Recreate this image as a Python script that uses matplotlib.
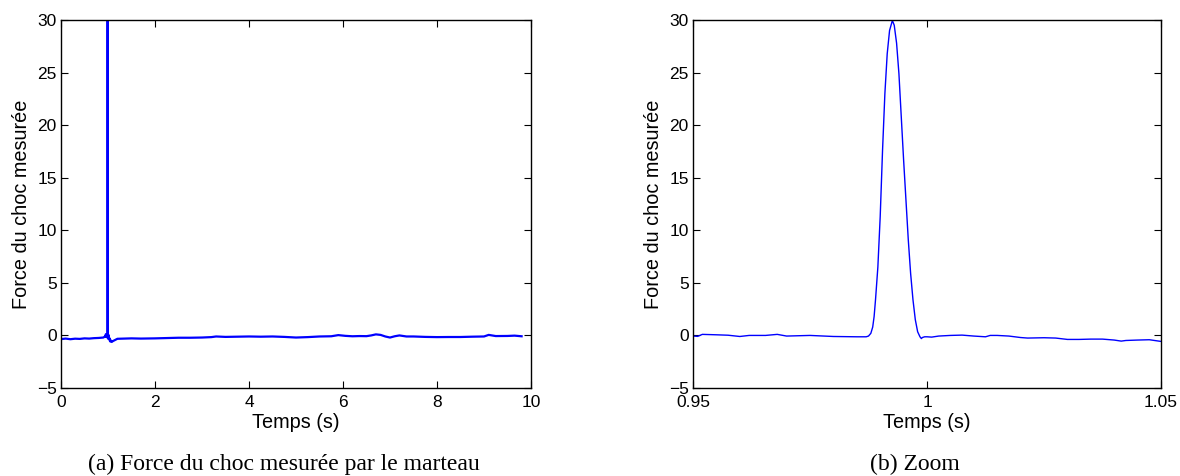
import matplotlib
matplotlib.use("Agg")
import matplotlib.pyplot as plt
import numpy as np

# --- Data ---
# Zoomed shock (s, force)
zoom_t = [0.950, 0.951, 0.952, 0.955, 0.9575, 0.960, 0.962, 0.9655, 0.968, 0.970,
          0.975, 0.980, 0.985, 0.987, 0.9875, 0.9880, 0.9884, 0.9887, 0.9890, 0.9895,
          0.9900, 0.9905, 0.9910, 0.9915, 0.9920, 0.9926, 0.9930, 0.9935, 0.9940, 0.9945,
          0.9950, 0.9955, 0.9960, 0.9965, 0.9970, 0.9975, 0.9980, 0.9985, 0.9988, 0.9990,
          0.9995, 1.0000, 1.0010, 1.0025, 1.0050, 1.0075, 1.0100, 1.0125, 1.0135, 1.0150,
          1.0175, 1.0200, 1.0215, 1.0250, 1.0275, 1.0300, 1.0325, 1.0350, 1.0375, 1.0400,
          1.0415, 1.0425, 1.0450, 1.0475, 1.0500]
zoom_f = [-0.06, -0.09, 0.10, 0.06, 0.02, -0.10, 0.00, 0.00, 0.10, -0.06,
          0.00, -0.10, -0.13, -0.13, -0.06, 0.20, 0.80, 1.80, 3.40, 6.50,
          11.30, 17.60, 23.00, 26.80, 29.00, 29.95, 29.50, 27.80, 24.90, 20.80,
          16.70, 12.90, 9.10, 5.90, 3.40, 1.50, 0.35, -0.13, -0.30, -0.20,
          -0.13, -0.13, -0.16, -0.06, 0.00, 0.03, -0.06, -0.13, 0.00, 0.00,
          -0.06, -0.20, -0.25, -0.22, -0.25, -0.38, -0.38, -0.35, -0.35, -0.44,
          -0.54, -0.48, -0.44, -0.41, -0.57]

# Full record baseline (s, force), outside the zoomed window
before_t = [0.00, 0.10, 0.20, 0.30, 0.40, 0.50, 0.60, 0.70, 0.80, 0.90, 0.93]
before_f = [-0.35, -0.30, -0.36, -0.31, -0.33, -0.28, -0.30, -0.26, -0.24, -0.20, -0.12]
after_t = [1.06, 1.08, 1.10, 1.20, 1.35, 1.50, 1.70, 2.00, 2.25, 2.50, 2.75, 3.00,
           3.20, 3.30, 3.50, 3.75, 4.00, 4.25, 4.50, 4.75, 5.00, 5.25, 5.50, 5.75,
           5.90, 6.05, 6.20, 6.35, 6.50, 6.60, 6.70, 6.80, 6.90, 7.00, 7.10, 7.20,
           7.35, 7.50, 7.75, 8.00, 8.25, 8.50, 8.75, 9.00, 9.10, 9.25, 9.50, 9.65, 9.80]
after_f = [-0.50, -0.62, -0.55, -0.32, -0.30, -0.28, -0.30, -0.28, -0.25, -0.22, -0.22, -0.20,
           -0.16, -0.10, -0.14, -0.12, -0.10, -0.12, -0.10, -0.14, -0.20, -0.16, -0.10, -0.08,
           0.03, -0.04, -0.08, -0.06, -0.07, 0.00, 0.10, 0.05, -0.10, -0.20, -0.08, 0.00,
           -0.10, -0.10, -0.14, -0.16, -0.15, -0.15, -0.12, -0.10, 0.05, -0.06, -0.05, -0.02, -0.08]

full_t = before_t + zoom_t + after_t
full_f = before_f + zoom_f + after_f

xticks_a = [0, 2, 4, 6, 8, 10]
xticks_b = [0.95, 1.0, 1.05]
xtick_labels_b = ["0.95", "1", "1.05"]
yticks = [-5, 0, 5, 10, 15, 20, 25, 30]

ylabel = "Force du choc mesurée"
xlabel = "Temps (s)"
caption_a = "(a) Force du choc mesurée par le marteau"
caption_b = "(b) Zoom"

# --- Figure ---
plt.rcParams['font.family'] = ['Liberation Sans', 'DejaVu Sans']
W, H = 1180, 476
fig = plt.figure(figsize=(W / 100, H / 100), dpi=100)

axA = fig.add_axes([61 / W, 1 - 388 / H, 470 / W, 368 / H])
axB = fig.add_axes([693 / W, 1 - 388 / H, 468 / W, 368 / H])

axA.plot(full_t, full_f, color=(0, 0, 1), lw=1.6)
axA.set_xlim(0, 10)
axA.set_xticks(xticks_a)
axA.set_xticklabels([str(v) for v in xticks_a])

axB.plot(zoom_t, zoom_f, color=(0, 0, 1), lw=1.0)
axB.set_xlim(0.95, 1.05)
axB.set_xticks(xticks_b)
axB.set_xticklabels(xtick_labels_b)

for ax in (axA, axB):
    ax.set_ylim(-5, 30)
    ax.set_yticks(yticks)
    ax.set_yticklabels([str(v).replace('-', '\u2212') for v in yticks])
    ax.tick_params(direction='in', length=5, width=0.8, top=True, right=True,
                   labelsize=12.5, colors='black')
    ax.tick_params(axis='x', pad=5)
    ax.tick_params(axis='y', pad=3)
    for s in ax.spines.values():
        s.set_linewidth(1.0)
        s.set_color('black')
    ax.set_xlabel(xlabel, fontsize=14.3, labelpad=2)
    ax.set_ylabel(ylabel, fontsize=14.3, labelpad=4)

fig.text(284 / W, 1 - 464 / H, caption_a, ha='center', va='center',
         fontsize=17, family=['Liberation Serif', 'DejaVu Serif'])
fig.text(915 / W, 1 - 464 / H, caption_b, ha='center', va='center',
         fontsize=17, family=['Liberation Serif', 'DejaVu Serif'])

fig.savefig("out.png", dpi=100)
